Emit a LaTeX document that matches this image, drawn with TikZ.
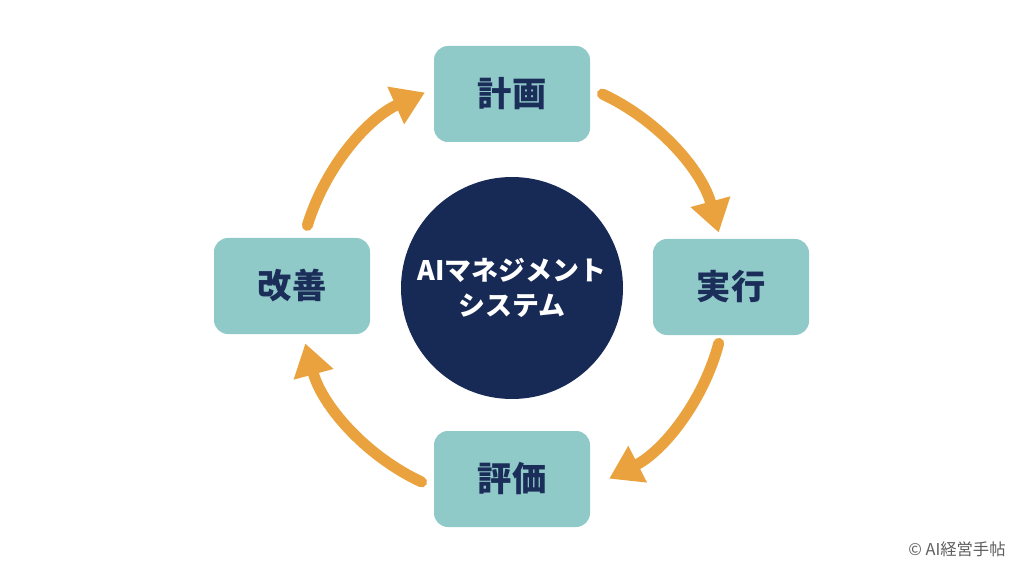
\documentclass[tikz,border=0pt]{standalone}
\usepackage{fontspec}
\setmainfont{Noto Sans CJK JP}
\usepackage{tikz}
\usetikzlibrary{arrows.meta,positioning,calc}
\definecolor{tealbox}{HTML}{8FC9C8}
\definecolor{navyink}{HTML}{1B2D59}
\definecolor{hubnavy}{HTML}{172A55}
\definecolor{cycorange}{HTML}{E9A23E}
\definecolor{notegray}{HTML}{5E5E5E}

\begin{document}
\begin{tikzpicture}[
    x=0.02cm, y=0.02cm,
    line cap=round,
    line join=round,
    stage/.style={fill=tealbox, rounded corners=14pt*0.567, minimum width=156*0.02cm, minimum height=96*0.02cm, inner sep=0pt, align=center, font=\bfseries\fontsize{19.5}{23}\selectfont, text=navyink},
    hubdisc/.style={circle, fill=hubnavy, minimum size=222*0.02cm, inner sep=0pt, align=center, font=\bfseries\fontsize{15.3}{20}\selectfont, text=white},
    cycarrow/.style={draw=cycorange, line width=11*0.02cm, -{Triangle[width=0.78cm, length=0.64cm]}},
    credit/.style={font=\fontsize{9.3}{11}\selectfont, text=notegray, anchor=east, inner sep=0pt}
]
\useasboundingbox (0,0) rectangle (1024,572);

% Centre
\node[hubdisc] (hub) at (512,284) {AIマネジメント\\システム};

% Stages
\node[stage] (plan) at (512,478) {計画};
\node[stage] (act) at (731,285) {実行};
\node[stage] (eval) at (512,93) {評価};
\node[stage] (improve) at (292,286) {改善};

% Cycle arrows
\draw[cycarrow] ($(hub.center)+(65:214)$) arc[start angle=65, end angle=15, radius=214];
\draw[cycarrow] ($(hub.center)+(-15:214)$) arc[start angle=-15, end angle=-63, radius=214];
\draw[cycarrow] ($(hub.center)+(-115:214)$) arc[start angle=-115, end angle=-165, radius=214];
\draw[cycarrow] ($(hub.center)+(163:214)$) arc[start angle=163, end angle=114, radius=214];

% Credit
\node[credit] (note) at (1006,23) {© AI経営手帖};

\end{tikzpicture}
\end{document}
